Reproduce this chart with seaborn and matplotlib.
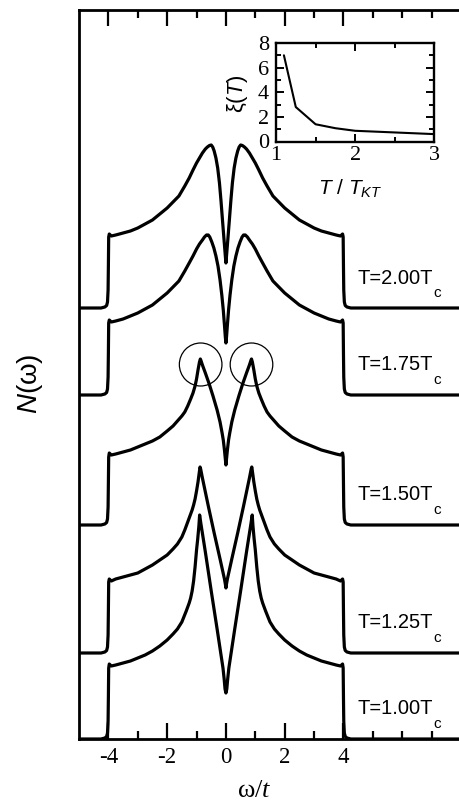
import numpy as np
import pandas as pd
import matplotlib
matplotlib.use('Agg')
import matplotlib.pyplot as plt
import seaborn as sns
from matplotlib.patches import Ellipse

sns.set_style('ticks')
plt.rcParams['font.family'] = ['Liberation Serif', 'DejaVu Serif']
plt.rcParams['mathtext.fontset'] = 'custom'
plt.rcParams['mathtext.rm'] = 'Liberation Sans'
plt.rcParams['mathtext.it'] = 'Liberation Sans:italic'
plt.rcParams['mathtext.sf'] = 'Liberation Serif:italic'
for k in ['axes.edgecolor', 'xtick.color', 'ytick.color', 'text.color', 'axes.labelcolor']:
    plt.rcParams[k] = 'black'

# Datos (mitad w >= 0, altura sobre la linea base de cada curva)
temps = ['1.00', '1.25', '1.50', '1.75', '2.00']
offsets = [0.0, 0.86, 2.14, 3.44, 4.31]

w_100 = [0, 0.03, 0.06, 0.1, 0.3, 0.5, 0.7, 0.85, 0.895, 0.92, 0.96, 1.0, 1.05, 1.1, 1.15, 1.2, 1.25,
         1.35, 1.5, 1.65, 1.8, 2.0, 2.25, 2.5, 2.75, 3.0, 3.25, 3.5, 3.75, 3.9, 3.97, 3.99]
n_100 = [0.46, 0.50, 0.60, 0.71, 1.10, 1.48, 1.87, 2.15, 2.24, 2.13, 2.00, 1.89, 1.72, 1.58, 1.48, 1.41, 1.36,
         1.28, 1.17, 1.10, 1.05, 0.99, 0.93, 0.88, 0.84, 0.81, 0.78, 0.76, 0.74, 0.73, 0.75, 0.71]

w_125 = [0, 0.02, 0.05, 0.2, 0.4, 0.6, 0.8, 0.86, 0.88, 0.9, 0.95, 1.0, 1.05, 1.1, 1.15, 1.2, 1.3, 1.4,
         1.5, 1.65, 1.8, 2.0, 2.25, 2.5, 2.75, 3.0, 3.25, 3.5, 3.75, 3.9, 3.97, 3.99]
n_125 = [0.65, 0.69, 0.74, 0.94, 1.20, 1.47, 1.75, 1.84, 1.86, 1.82, 1.71, 1.62, 1.54, 1.48, 1.43, 1.39, 1.31, 1.23,
         1.16, 1.09, 1.04, 0.98, 0.93, 0.88, 0.84, 0.80, 0.78, 0.76, 0.74, 0.72, 0.74, 0.71]

w_150 = [0, 0.02, 0.05, 0.09, 0.13, 0.2, 0.3, 0.44, 0.58, 0.7, 0.8, 0.85, 0.87, 0.9, 0.95, 1.0, 1.05, 1.12,
         1.2, 1.3, 1.4, 1.5, 1.65, 1.8, 2.0, 2.25, 2.5, 2.75, 3.0, 3.25, 3.5, 3.75, 3.9, 3.97, 3.99]
n_150 = [0.60, 0.66, 0.75, 0.85, 0.92, 1.03, 1.15, 1.29, 1.42, 1.52, 1.60, 1.645, 1.66, 1.63, 1.55, 1.46, 1.39, 1.32,
         1.26, 1.19, 1.13, 1.09, 1.04, 0.99, 0.94, 0.88, 0.84, 0.81, 0.78, 0.75, 0.73, 0.71, 0.70, 0.72, 0.68]

w_175 = [0, 0.02, 0.05, 0.09, 0.14, 0.2, 0.27, 0.34, 0.41, 0.48, 0.55, 0.6, 0.66, 0.73, 0.8, 0.9, 1.0, 1.12,
         1.25, 1.4, 1.6, 1.8, 2.0, 2.25, 2.5, 2.75, 3.0, 3.25, 3.5, 3.75, 3.9, 3.97, 3.99]
n_175 = [0.52, 0.58, 0.70, 0.85, 1.00, 1.15, 1.29, 1.39, 1.47, 1.53, 1.58, 1.60, 1.60, 1.58, 1.55, 1.51, 1.46, 1.39,
         1.32, 1.24, 1.14, 1.08, 1.02, 0.96, 0.90, 0.86, 0.82, 0.79, 0.76, 0.74, 0.73, 0.75, 0.72]

w_200 = [0, 0.02, 0.05, 0.08, 0.12, 0.17, 0.22, 0.28, 0.34, 0.4, 0.45, 0.5, 0.56, 0.63, 0.7, 0.8, 0.9, 1.0,
         1.12, 1.25, 1.4, 1.6, 1.8, 2.0, 2.25, 2.5, 2.75, 3.0, 3.25, 3.5, 3.75, 3.9, 3.97, 3.99]
n_200 = [0.45, 0.52, 0.63, 0.74, 0.89, 1.08, 1.25, 1.40, 1.50, 1.57, 1.61, 1.63, 1.625, 1.61, 1.59, 1.55, 1.50, 1.45,
         1.38, 1.30, 1.22, 1.12, 1.06, 1.00, 0.94, 0.88, 0.84, 0.80, 0.77, 0.75, 0.73, 0.72, 0.74, 0.71]

# borde de banda en w = 4
tail_w = [4.0, 4.01, 4.03, 4.06, 4.12, 4.25, 8.2]
tail_n = [0.42, 0.18, 0.06, 0.025, 0.01, 0.0, 0.0]

# inset xi(T)
t_kt = [1.1, 1.25, 1.5, 1.75, 2.0, 3.0]
xi = [7.0, 2.8, 1.4, 1.08, 0.87, 0.6]

# circulos sobre los picos de T=1.50
circ_w = [-0.86, 0.87]
circ_y = 3.745

medias = {'1.00': (w_100, n_100), '1.25': (w_125, n_125), '1.50': (w_150, n_150),
          '1.75': (w_175, n_175), '2.00': (w_200, n_200)}

filas = []
for t, off in zip(temps, offsets):
    w, n = medias[t]
    w = np.array(list(w) + tail_w)
    n = np.array(list(n) + tail_n)
    w_full = np.concatenate([-w[::-1], w[1:]])
    n_full = np.concatenate([n[::-1], n[1:]]) + off
    filas.append(pd.DataFrame({'w': w_full, 'N': n_full, 'T': t}))
df = pd.concat(filas, ignore_index=True)

fig = plt.figure(figsize=(4.59, 8.02), dpi=100)
ax = fig.add_axes([79 / 459, 63 / 802, 382 / 459, 729 / 802])

sns.lineplot(data=df, x='w', y='N', units='T', estimator=None, sort=False,
             color='black', lw=2.3, ax=ax, legend=False)

for cw in circ_w:
    ax.add_patch(Ellipse((cw, circ_y), 1.45, 0.43, fill=False, lw=0.9, color='black'))

# etiquetas T=...T_c con subindice bajado como en el original
for t, off in zip(temps, offsets):
    txt = ax.text(4.49, off + 0.245, f'T={t}T', family='Liberation Sans',
                  fontsize=14.5, va='baseline', ha='left')
    ax.annotate('c', xy=(1, 0), xycoords=txt, xytext=(-0.3, -6.5),
                textcoords='offset points', family='Liberation Sans',
                fontsize=11, va='baseline', ha='left')

ax.set_xlim(-5, 8)
ax.set_ylim(0, 7.29)
ax.set_xticks([-4, -2, 0, 2, 4])
ax.set_xticklabels(['-4', '-2', '0', '2', '4'])
ax.set_xticks([-3, -1, 1, 3, 5, 6, 7], minor=True)
ax.set_yticks([])
ax.tick_params(axis='x', which='both', direction='in', top=True, bottom=True,
               width=1.6, labelsize=16.5, pad=6)
ax.tick_params(axis='x', which='major', length=11.5)
ax.tick_params(axis='x', which='minor', length=6)
for s in ax.spines.values():
    s.set_linewidth(2)
ax.spines['right'].set_visible(False)

ax.set_xlabel('ω/$\\mathsf{t}$', fontsize=19)
ax.xaxis.set_label_coords(0.458, -0.0713)
ax.xaxis.label.set_va('center')
ax.set_ylabel('$\\mathit{N}$(ω)', fontsize=20, family='Liberation Sans')
ax.yaxis.set_label_coords(-0.128, 0.488)
ax.yaxis.label.set_va('center')

# inset
axin = fig.add_axes([276 / 459, (802 - 141.5) / 802, 158.3 / 459, 98.5 / 802])
sns.lineplot(x=t_kt, y=xi, ax=axin, color='black', lw=1.5, sort=False)
axin.set_xlim(1, 3)
axin.set_ylim(0, 8)
axin.set_xticks([1, 2, 3])
axin.set_xticks([1.5, 2.5], minor=True)
axin.set_yticks([0, 2, 4, 6, 8])
axin.set_yticks([1, 3, 5, 7], minor=True)
axin.tick_params(which='both', direction='in', top=True, right=True, width=1.4,
                 labelsize=16)
axin.tick_params(which='major', length=6, pad=3)
axin.tick_params(which='minor', length=3.5)
axin.tick_params(axis='y', which='major', pad=5)
for s in axin.spines.values():
    s.set_linewidth(1.7)

axin.set_ylabel('ξ($\\mathit{T}$)', fontsize=16, family='Liberation Sans')
axin.yaxis.set_label_coords(-0.246, 0.49)
axin.yaxis.label.set_va('center')
axin.set_xlabel('$\\mathit{T}$ / $\\mathit{T}_{\\mathit{KT}}$', fontsize=15,
                family='Liberation Sans')
axin.xaxis.set_label_coords(0.467, -0.543)
axin.xaxis.label.set_va('baseline')

fig.savefig('out.png', dpi=100)
